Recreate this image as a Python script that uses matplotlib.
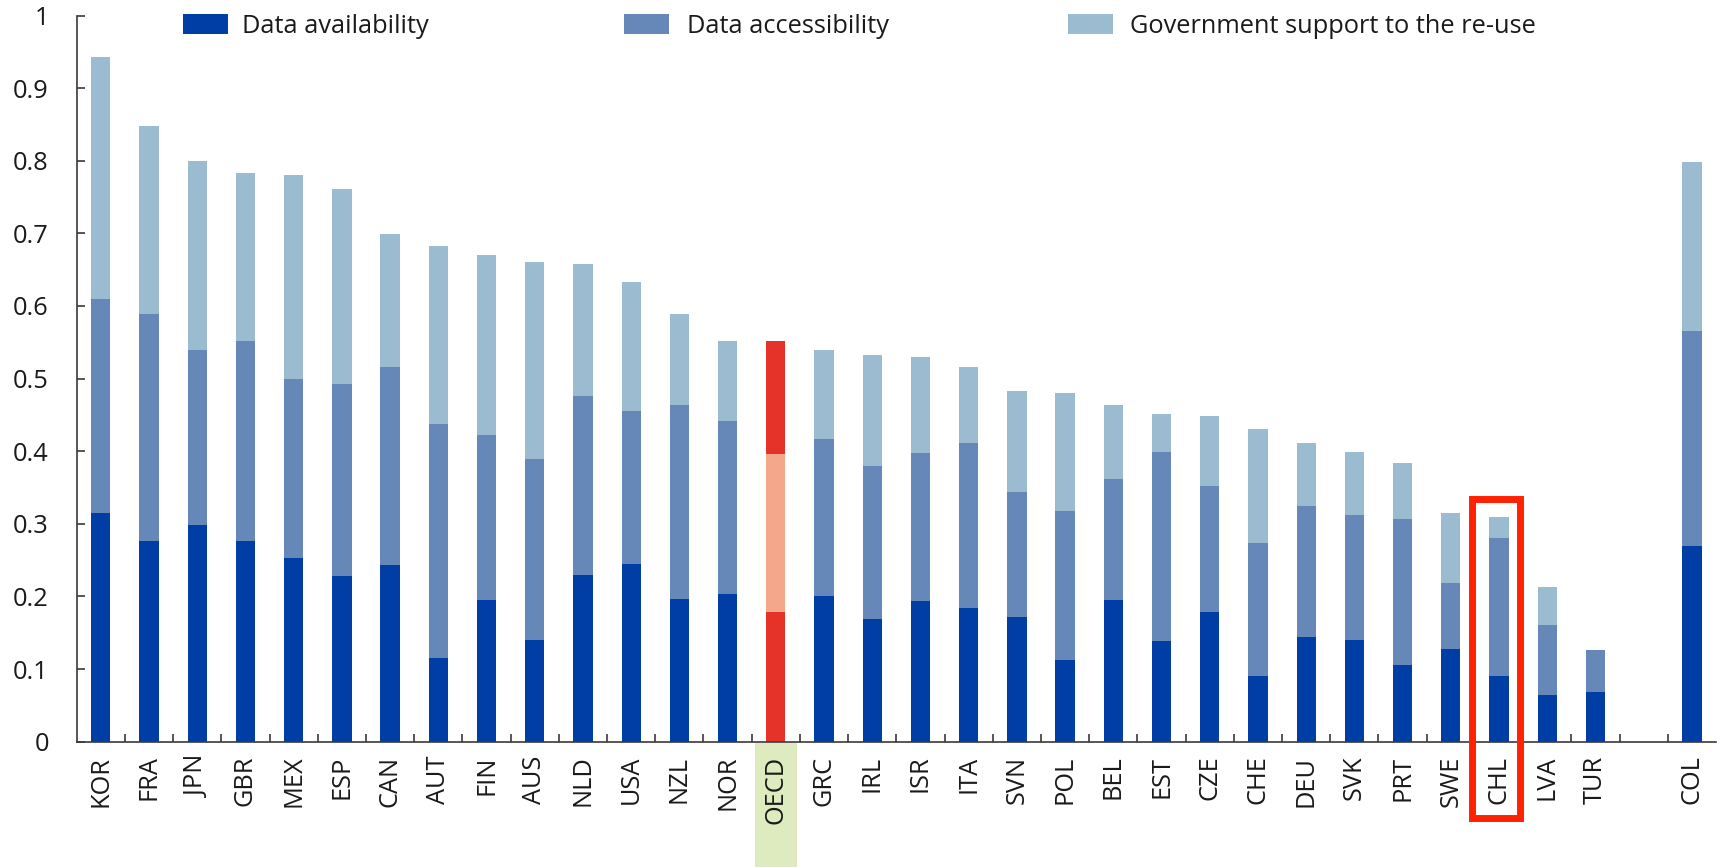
import numpy as np
import matplotlib
matplotlib.use("Agg")
import matplotlib.pyplot as plt
from matplotlib.patches import Rectangle
import matplotlib.transforms as mtransforms
from matplotlib.ticker import FixedLocator, FuncFormatter

plt.rcParams['font.family'] = ['Open Sans', 'DejaVu Sans']

countries = ["KOR", "FRA", "JPN", "GBR", "MEX", "ESP", "CAN", "AUT", "FIN", "AUS",
             "NLD", "USA", "NZL", "NOR", "OECD", "GRC", "IRL", "ISR", "ITA", "SVN",
             "POL", "BEL", "EST", "CZE", "CHE", "DEU", "SVK", "PRT", "SWE", "CHL",
             "LVA", "TUR", "COL"]
availability = [0.315, 0.276, 0.298, 0.276, 0.253, 0.228, 0.244, 0.115, 0.195, 0.140,
                0.229, 0.245, 0.196, 0.204, 0.179, 0.200, 0.169, 0.194, 0.184, 0.172,
                0.113, 0.195, 0.139, 0.179, 0.091, 0.144, 0.140, 0.106, 0.127, 0.091,
                0.064, 0.068, 0.270]
accessibility = [0.294, 0.313, 0.241, 0.276, 0.247, 0.264, 0.272, 0.323, 0.228, 0.249,
                 0.247, 0.210, 0.267, 0.237, 0.217, 0.217, 0.210, 0.204, 0.228, 0.172,
                 0.205, 0.167, 0.260, 0.173, 0.182, 0.181, 0.172, 0.201, 0.092, 0.190,
                 0.097, 0.058, 0.296]
government = [0.334, 0.259, 0.260, 0.231, 0.281, 0.269, 0.183, 0.244, 0.247, 0.272,
              0.182, 0.178, 0.126, 0.111, 0.156, 0.122, 0.153, 0.132, 0.104, 0.139,
              0.162, 0.101, 0.052, 0.096, 0.157, 0.086, 0.087, 0.077, 0.096, 0.029,
              0.052, 0.000, 0.232]
series_labels = ["Data availability", "Data accessibility", "Government support to the re-use"]
yticks = [0, 0.1, 0.2, 0.3, 0.4, 0.5, 0.6, 0.7, 0.8, 0.9, 1]

c_avail = "#003DA5"
c_access = "#6688B9"
c_gov = "#9BBCD0"
c_oecd_dark = "#E5332A"
c_oecd_light = "#F4A78B"
series_colors = [c_avail, c_access, c_gov]

FS = 18.3
W, H = 1719, 867
fig = plt.figure(figsize=(W / 100, H / 100), dpi=100)
ax = fig.add_axes([76.7 / W, 1 - 741.7 / H, (1716 - 76.7) / W, (741.7 - 15.5) / H])

n = len(countries)
# leave an empty slot before the last country (COL)
pos = np.array([i if i < n - 1 else i + 1 for i in range(n)], dtype=float)
avail = np.array(availability)
acc = np.array(accessibility)
gov = np.array(government)

width = 0.4
for i, c in enumerate(countries):
    if c == "OECD":
        cols = [c_oecd_dark, c_oecd_light, c_oecd_dark]
    else:
        cols = series_colors
    ax.bar(pos[i], avail[i], width, color=cols[0], linewidth=0, zorder=2)
    ax.bar(pos[i], acc[i], width, bottom=avail[i], color=cols[1], linewidth=0, zorder=2)
    if gov[i] > 0:
        ax.bar(pos[i], gov[i], width, bottom=avail[i] + acc[i], color=cols[2], linewidth=0, zorder=2)

ax.set_xlim(-0.5, pos[-1] + 0.5)
ax.set_ylim(0, 1)

for s in ["top", "right"]:
    ax.spines[s].set_visible(False)
for s in ["left", "bottom"]:
    ax.spines[s].set_color("#3a3a3a")
    ax.spines[s].set_linewidth(1.2)

ax.set_yticks(yticks)
ax.yaxis.set_major_formatter(FuncFormatter(lambda v, p: "0" if v == 0 else ("1" if abs(v - 1) < 1e-9 else f"{v:.1f}")))
ax.tick_params(axis="y", direction="in", length=6, width=1.2, color="#3a3a3a",
               labelsize=FS, pad=20, labelcolor="#1a1a1a")

ax.set_xticks(pos)
ax.set_xticklabels(countries, rotation=90, fontsize=FS, color="#1a1a1a")
ax.tick_params(axis="x", which="major", length=0, pad=10)
minor = list(np.arange(0.5, pos[-1], 1.0))
ax.xaxis.set_minor_locator(FixedLocator(minor))
ax.tick_params(axis="x", which="minor", direction="in", length=6, width=1.2, color="#3a3a3a")

# OECD highlight behind label
oecd_i = countries.index("OECD")
trans = mtransforms.blended_transform_factory(ax.transData, fig.transFigure)
ax.add_patch(Rectangle((pos[oecd_i] - 0.44, 0), 0.88, 1 - 743 / H, transform=trans,
                       facecolor="#DDEBBE", edgecolor="none", clip_on=False, zorder=0.5))

# CHL red box
chl_i = countries.index("CHL")
ax.add_patch(Rectangle((pos[chl_i] - 0.56, -0.105), 1.0, 0.334 + 0.105,
                       facecolor="none", edgecolor="#FF2200", linewidth=5,
                       clip_on=False, zorder=5))

# legend drawn manually
leg_patch_x = [182.7, 624.3, 1068.3]
leg_text_x = [241.7, 687.3, 1130.0]
for px, tx, lab, col in zip(leg_patch_x, leg_text_x, series_labels, series_colors):
    fig.patches.append(Rectangle((px / W, 1 - 34 / H), 45 / W, 19.7 / H,
                                 transform=fig.transFigure, facecolor=col,
                                 edgecolor="none"))
    fig.text(tx / W, 1 - 33 / H, lab, fontsize=FS, color="#1a1a1a", va="baseline", ha="left")

fig.savefig("out.png", dpi=100)
